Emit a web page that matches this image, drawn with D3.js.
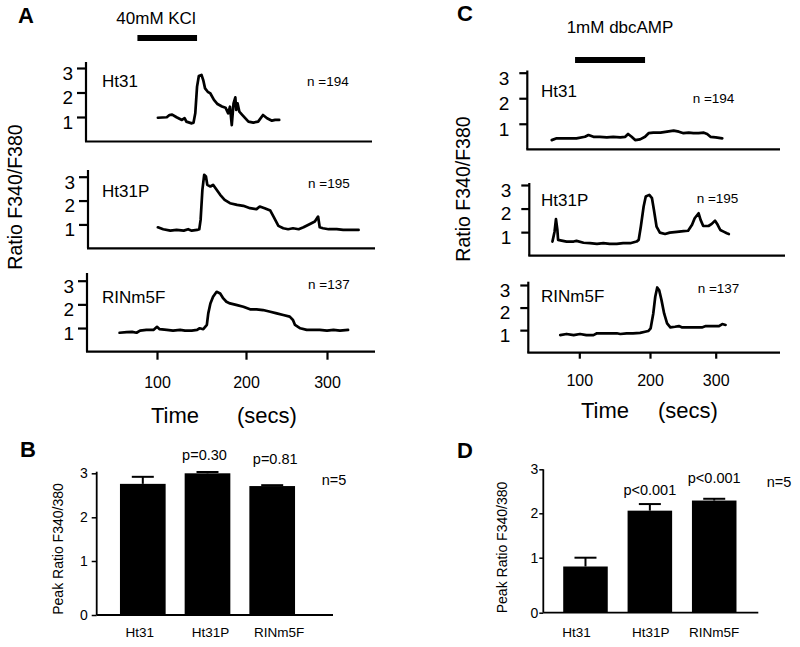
<!DOCTYPE html>
<html><head><meta charset="utf-8">
<script src="https://cdn.jsdelivr.net/npm/d3@7"></script>
<style>
body{margin:0;background:#fff}
svg{display:block;font-family:"Liberation Sans",Arial,Helvetica,sans-serif}
</style></head><body>
<svg id="fig" width="800" height="647"></svg>
<script>
// ---------------- DATA ----------------
const timeTicks = [100, 200, 300];
const ratioTicks = [1, 2, 3];
const barTicks = [0, 1, 2, 3];
const cellLines = ["Ht31", "Ht31P", "RINm5F"];
const cellCounts = [194, 195, 137];
const kclWindow = [78, 145];      // secs
const dbcampWindow = [94, 193];   // secs

// KCl traces: [time (s), ratio]
const kclHt31 = [[101,0.97],[111,0.99],[114,1.08],[117,1.10],[122,0.99],[128,0.88],[131,0.95],[133,0.81],[139,0.74],[141,0.77],[143,1.15],[145,2.24],[147,2.67],[150,2.72],[152,2.50],[154,2.17],[157,2.03],[160,1.96],[164,1.70],[168,1.53],[173,1.43],[177,1.38],[180,1.15],[182,1.42],[184,0.67],[186,1.56],[188,1.80],[189,1.29],[190.5,1.56],[192.5,1.22],[196,1.08],[203,0.81],[209,0.77],[215,0.81],[221,1.08],[226,0.95],[232,0.85],[236,0.88],[241,0.88]];
const kclHt31P = [[101,0.88],[107,0.80],[115,0.74],[122,0.77],[130,0.74],[135,0.80],[139,0.74],[145,0.77],[147.5,0.80],[149,1.19],[151,2.45],[153,3.08],[155,3.01],[156.5,2.66],[160,2.59],[163,2.66],[167,2.45],[171,2.24],[176,2.03],[182,1.89],[190,1.82],[197,1.78],[205,1.68],[213,1.64],[217,1.75],[223,1.68],[230,1.58],[234,1.33],[240,0.94],[246,0.84],[252,0.80],[258,0.84],[265,0.80],[271,0.88],[279,1.02],[285,1.12],[289,1.33],[291,0.88],[295,0.84],[302,0.80],[312,0.80],[320,0.77],[328,0.77],[339,0.77]];
const kclRIN = [[58,0.80],[66,0.83],[72,0.84],[77,0.80],[81,0.89],[88,0.92],[96,0.92],[100,1.05],[103,0.95],[111,0.92],[118,0.89],[126,0.92],[131.5,0.89],[139,0.89],[145,0.92],[148,0.99],[152,0.95],[156,1.13],[157.6,1.62],[160,2.04],[163,2.32],[167,2.53],[171,2.46],[174.5,2.25],[178,2.11],[182,2.04],[190,1.97],[197,1.90],[205,1.79],[213,1.79],[221,1.76],[230,1.69],[238,1.62],[246,1.55],[254,1.48],[258,1.34],[260.5,1.13],[267,0.99],[275,0.92],[283,0.92],[291,0.92],[300,0.89],[308,0.92],[316,0.89],[326,0.92]];

// dbcAMP traces
const dbcHt31 = [[61,0.36],[68,0.43],[82,0.43],[96,0.43],[108,0.49],[113,0.56],[120,0.49],[129,0.49],[139,0.47],[148,0.49],[158,0.47],[165,0.49],[169,0.60],[174,0.49],[179,0.36],[186,0.39],[193,0.49],[198,0.63],[205,0.65],[216,0.65],[226,0.69],[236,0.73],[244,0.69],[251,0.63],[259,0.65],[266,0.63],[274,0.63],[282,0.65],[287,0.60],[292,0.49],[300,0.47],[310,0.43]];
const dbcHt31P = [[62,0.60],[65,1.02],[67,1.55],[69,1.09],[70,0.67],[75,0.64],[82,0.60],[92,0.60],[96,0.63],[106,0.55],[115,0.53],[125,0.50],[134,0.53],[143,0.50],[153,0.50],[162,0.53],[172,0.53],[181,0.60],[184,0.67],[187,1.23],[191,2.09],[194,2.51],[199,2.58],[203,2.44],[206,1.94],[210,1.23],[215,0.98],[223,0.92],[230,0.98],[241,1.01],[251,1.04],[258,1.06],[264,1.31],[268,1.59],[274,1.80],[277,1.52],[281,1.26],[289,1.26],[294,1.35],[299,1.49],[303,1.31],[307,1.09],[312,1.02],[317,0.95],[320,0.92]];
const dbcRIN = [[73,0.78],[82,0.83],[92,0.78],[101,0.83],[110,0.78],[120,0.78],[125,0.86],[139,0.86],[153,0.86],[158,0.83],[167,0.86],[176,0.86],[186,0.88],[193,0.93],[197.5,0.96],[201,1.08],[205,1.74],[208,2.48],[211,2.89],[214,2.77],[217.5,2.33],[221.5,1.74],[226,1.30],[231,1.12],[238,1.15],[244,1.18],[249,1.12],[259,1.12],[269,1.12],[279,1.12],[285,1.18],[295,1.18],[305,1.18],[310,1.27],[315,1.23]];

// Peak bar charts
const peakKCl = [2.76, 3.00, 2.71];
const semKCl = [0.16, 0.03, 0.02];
const pKCl = ["", "p=0.30", "p=0.81"];
const peakDbc = [0.84, 2.06, 2.29];
const semDbc = [0.16, 0.15, 0.04];
const pDbc = ["", "p<0.001", "p<0.001"];

// ---------------- LAYOUT ----------------
const svg = d3.select("#fig");
const FONT = '"Liberation Sans",Arial,Helvetica,sans-serif';

const panelA = {
  tickPx: [157, 246, 327],
  stimY: 35, stimH: 6, stimText: "40mM KCl", stimTextX: 156, stimTextY: 24,
  tickSize: 9, tickPad: 4, xTickSize: 8, xTickPad: 17,
  labelX: 102, nX: [307, 308, 308],
  title: {x: 22, y: 197},
  timeX: 175, secsX: 267, timeY: 423,
  subs: [
    {left: 86, right: 372, zero: 141.5, three: 68, top: 62, labelY: 87, nY: 86},
    {left: 88, right: 375, zero: 248.3, three: 176.7, top: 170, labelY: 196.7, nY: 187.7},
    {left: 87, right: 375, zero: 351.7, three: 280.7, top: 273, labelY: 303, nY: 289}
  ],
  series: [kclHt31, kclHt31P, kclRIN], window: kclWindow
};
const panelC = {
  tickPx: [579.3, 650, 715.7],
  stimY: 57, stimH: 6, stimText: "1mM dbcAMP", stimTextX: 620, stimTextY: 33,
  tickSize: 8, tickPad: 10, xTickSize: 6, xTickPad: 16,
  labelX: 541, nX: [692.7, 696.7, 697.7],
  title: {x: 470, y: 189},
  timeX: 605, secsX: 688, timeY: 418,
  subs: [
    {left: 527.3, right: 780, zero: 149.3, three: 72.7, top: 70.5, labelY: 96.7, nY: 103.3},
    {left: 529.3, right: 785, zero: 255.7, three: 185, top: 183, labelY: 205.7, nY: 203.3},
    {left: 528.3, right: 780, zero: 352.7, three: 285, top: 281.7, labelY: 301.7, nY: 293.3}
  ],
  series: [dbcHt31, dbcHt31P, dbcRIN], window: dbcampWindow
};

function panelLetter(t, x, y) {
  svg.append("text").attr("x", x).attr("y", y).text(t)
    .attr("font-size", 22).attr("font-weight", "bold").attr("fill", "#000");
}

function tracePanel(P) {
  const xs = d3.scaleLinear().domain(timeTicks).range(P.tickPx);
  svg.append("rect").attr("x", xs(P.window[0])).attr("y", P.stimY)
    .attr("width", xs(P.window[1]) - xs(P.window[0])).attr("height", P.stimH).attr("fill", "#000");
  svg.append("text").attr("x", P.stimTextX).attr("y", P.stimTextY).attr("text-anchor", "middle")
    .attr("font-size", 17).text(P.stimText);
  svg.append("text").attr("transform", `translate(${P.title.x},${P.title.y}) rotate(-90)`)
    .attr("text-anchor", "middle").attr("font-size", 19.5).text("Ratio F340/F380");

  P.subs.forEach((s, i) => {
    const y = d3.scaleLinear().domain([0, 3]).range([s.zero, s.three]);
    const ga = svg.append("g").attr("transform", `translate(${s.left},0)`)
      .call(d3.axisLeft(y).tickValues(ratioTicks).tickSize(P.tickSize).tickPadding(P.tickPad).tickFormat(d3.format("d")));
    ga.select(".domain").remove();
    ga.selectAll(".tick line").attr("stroke", "#000").attr("stroke-width", 2.2);
    ga.selectAll(".tick text").attr("font-size", 19).attr("font-family", FONT).attr("fill", "#000").attr("dy", "0.6em");
    svg.append("line").attr("x1", s.left).attr("x2", s.left).attr("y1", s.top).attr("y2", s.zero)
      .attr("stroke", "#000").attr("stroke-width", 2.2);
    svg.append("line").attr("x1", s.left - 1).attr("x2", s.right).attr("y1", s.zero).attr("y2", s.zero)
      .attr("stroke", "#000").attr("stroke-width", 2.2);
    if (i === P.subs.length - 1) {
      const gx = svg.append("g").attr("transform", `translate(0,${s.zero})`)
        .call(d3.axisBottom(xs).tickValues(timeTicks).tickSize(P.xTickSize).tickPadding(P.xTickPad).tickSizeOuter(0));
      gx.select(".domain").remove();
      gx.selectAll(".tick line").attr("stroke", "#000").attr("stroke-width", 2.2);
      gx.selectAll(".tick text").attr("font-size", 16).attr("font-family", FONT).attr("fill", "#000");
    }
    svg.append("path").datum(P.series[i])
      .attr("d", d3.line().x(d => xs(d[0])).y(d => y(d[1])))
      .attr("fill", "none").attr("stroke", "#000").attr("stroke-width", 2.7)
      .attr("stroke-linejoin", "round").attr("stroke-linecap", "round");
    svg.append("text").attr("x", P.labelX).attr("y", s.labelY).attr("font-size", 17).text(cellLines[i]);
    svg.append("text").attr("x", P.nX[i]).attr("y", s.nY).attr("font-size", 13.5).text("n =" + cellCounts[i]);
  });
  svg.append("text").attr("x", P.timeX).attr("y", P.timeY).attr("text-anchor", "middle").attr("font-size", 22).text("Time");
  svg.append("text").attr("x", P.secsX).attr("y", P.timeY).attr("text-anchor", "middle").attr("font-size", 22).text("(secs)");
}

const panelB = {
  yPx: [615, 561, 517.3, 473.3], axisTop: 471.7, axisX: 96.7, axisRight: 333,
  band: [110.45, 304.55], padInner: 0.294,
  values: peakKCl, sem: semKCl, p: pKCl, pDy: [0, 12, 21], pDx: [0, -3, 3],
  catDx: [-3, 3, 7], catY: 637, tickSize: 5, tickPad: 4,
  title: {x: 63, y: 549}, nX: 321.7, nY: 485
};
const panelD = {
  yPx: [612.7, 557.7, 513.3, 469.3], axisTop: 469.3, axisX: 543.3, axisRight: 758.3,
  band: [553.3, 746.4], padInner: 0.308,
  values: peakDbc, sem: semDbc, p: pDbc, pDy: [0, 9, 16], pDx: [0, 0, 0],
  catDx: [-9, 1, 0], catY: 636.7, tickSize: 4, tickPad: 1,
  title: {x: 507, y: 547.5}, nX: 766.7, nY: 487.3
};

function barPanel(P) {
  const y = d3.scaleLinear().domain(barTicks).range(P.yPx);
  const x = d3.scaleBand().domain(cellLines).range(P.band).paddingInner(P.padInner).paddingOuter(P.padInner / 2);
  const ga = svg.append("g").attr("transform", `translate(${P.axisX},0)`)
    .call(d3.axisLeft(y).tickValues(barTicks).tickSize(P.tickSize).tickPadding(P.tickPad).tickSizeOuter(0).tickFormat(d3.format("d")));
  ga.select(".domain").remove();
  ga.selectAll(".tick line").attr("stroke", "#000").attr("stroke-width", 1.5);
  ga.selectAll(".tick text").attr("font-size", 14).attr("font-family", FONT).attr("fill", "#000");
  svg.append("line").attr("x1", P.axisX).attr("x2", P.axisX).attr("y1", P.axisTop).attr("y2", y(0))
    .attr("stroke", "#000").attr("stroke-width", 1.8);
  svg.append("line").attr("x1", P.axisX).attr("x2", P.axisRight).attr("y1", y(0)).attr("y2", y(0))
    .attr("stroke", "#000").attr("stroke-width", 1.8);

  const g = svg.append("g");
  cellLines.forEach((c, i) => {
    const cx = x(c) + x.bandwidth() / 2;
    g.append("line").attr("x1", cx).attr("x2", cx).attr("y1", y(P.values[i])).attr("y2", y(P.values[i] + P.sem[i]))
      .attr("stroke", "#000").attr("stroke-width", 2);
    g.append("line").attr("x1", cx - 11).attr("x2", cx + 11)
      .attr("y1", y(P.values[i] + P.sem[i])).attr("y2", y(P.values[i] + P.sem[i]))
      .attr("stroke", "#000").attr("stroke-width", 2);
    g.append("rect").attr("x", x(c)).attr("y", y(P.values[i])).attr("width", x.bandwidth())
      .attr("height", y(0) - y(P.values[i])).attr("fill", "#000");
    svg.append("text").attr("x", cx + P.catDx[i]).attr("y", P.catY).attr("text-anchor", "middle")
      .attr("font-size", 13.5).text(c);
    if (P.p[i]) {
      svg.append("text").attr("x", cx + P.pDx[i]).attr("y", y(P.values[i] + P.sem[i]) - P.pDy[i])
        .attr("text-anchor", "middle").attr("font-size", 14.5).text(P.p[i]);
    }
  });
  svg.append("text").attr("transform", `translate(${P.title.x},${P.title.y}) rotate(-90)`)
    .attr("text-anchor", "middle").attr("font-size", 14).text("Peak Ratio F340/380");
  svg.append("text").attr("x", P.nX).attr("y", P.nY).attr("font-size", 14.5).text("n=5");
}

svg.append("rect").attr("width", 800).attr("height", 647).attr("fill", "#fff");
panelLetter("A", 18, 23);
panelLetter("C", 457, 21);
panelLetter("B", 20, 457);
panelLetter("D", 457, 458);
tracePanel(panelA);
tracePanel(panelC);
barPanel(panelB);
barPanel(panelD);
</script>
</body></html>
